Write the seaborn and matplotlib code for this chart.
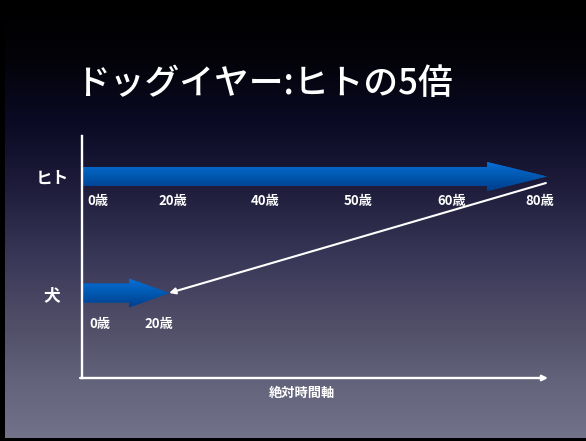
import numpy as np
import pandas as pd
import matplotlib
matplotlib.use("Agg")
import matplotlib.pyplot as plt
import seaborn as sns
from matplotlib.patches import Polygon
from matplotlib.colors import LinearSegmentedColormap

# ---------------- data ----------------
title = "ドッグイヤー:ヒトの5倍"
species = ["ヒト", "犬"]
arrow_end = [80, 15]                 # position reached on the absolute time axis
human_ages = ["0歳", "20歳", "40歳", "50歳", "60歳", "80歳"]
human_age_x = [0.9, 13.1, 29.1, 45.1, 61.2, 76.2]
dog_ages = ["0歳", "20歳"]
dog_age_x = [1.2, 10.7]
axis_label = "絶対時間軸"

# ---------------- style ----------------
head_len = [10.3, 6.9]
shaft_w = 0.163
head_w = 0.249

sns.set_theme(style="white")
plt.rcParams['font.family'] = ['Noto Sans CJK JP', 'DejaVu Sans']

W, H, DPI = 586, 441, 100
fig = plt.figure(figsize=(W / DPI, H / DPI), dpi=DPI, facecolor='black')

# background gradient
bg = fig.add_axes([5 / W, 3 / H, 581 / W, 438 / H], zorder=-10)
stops_y = [0, 60, 120, 180, 260, 330, 380, 438]
stops_c = ['#000000', '#030309', '#0a0a24', '#1c1a38', '#3a3858',
           '#525069', '#62627a', '#72728a']
bg_cmap = LinearSegmentedColormap.from_list(
    'bg', list(zip(np.array(stops_y) / 438.0, stops_c)))
bg.imshow(np.linspace(0, 1, 438)[:, None], aspect='auto', cmap=bg_cmap)
bg.set_axis_off()

# main axes
ax = fig.add_axes([82 / W, 1 - 378 / H, (548 - 82) / W, (378 - 136) / H])
ax.set_facecolor('none')

shaft = [e - h for e, h in zip(arrow_end, head_len)]
df = pd.DataFrame({'species': species, 'shaft': shaft})
sns.barplot(data=df, x='shaft', y='species', orient='h', color='#0058b0',
            saturation=1, width=shaft_w, ax=ax, zorder=2,
            linewidth=0, edgecolor='none')

arrow_cmap = LinearSegmentedColormap.from_list('arr', ['#0a70d8', '#0058b0', '#003d8c'])
grad = np.linspace(0, 1, 100)[:, None]
for i, (end, hl) in enumerate(zip(arrow_end, head_len)):
    base = end - hl
    y0 = i
    hs, hh = shaft_w / 2, head_w / 2
    verts = [(0, y0 - hs), (base, y0 - hs), (base, y0 - hh), (end, y0),
             (base, y0 + hh), (base, y0 + hs), (0, y0 + hs)]
    poly = Polygon(verts, closed=True, facecolor='#0058b0', edgecolor='none',
                   linewidth=0, zorder=2.5)
    ax.add_patch(poly)
    im = ax.imshow(grad, extent=[0, end, y0 + hh, y0 - hh], aspect='auto',
                   cmap=arrow_cmap, zorder=3)
    im.set_clip_path(poly)

# connecting line (human 80 -> dog 20)
ax.annotate('', xy=(arrow_end[1], 1), xytext=(arrow_end[0] - 0.2, 0.056),
            arrowprops=dict(arrowstyle='-|>', color='white', lw=1.5,
                            mutation_scale=9, shrinkA=0, shrinkB=0),
            zorder=5)

# age labels
for x, lbl in zip(human_age_x, human_ages):
    ax.text(x, 0.21, lbl, ha='left', va='center', fontsize=9.5,
            fontweight='bold', color='white', zorder=6)
for x, lbl in zip(dog_age_x, dog_ages):
    ax.text(x, 1.266, lbl, ha='left', va='center', fontsize=9.5,
            fontweight='bold', color='white', zorder=6)

ax.set_xlim(0, 80.17)
ax.set_ylim(1.7296, -0.3476)
ax.set_xlabel('')
ax.set_ylabel('')
ax.set_xticks([])
ax.grid(False)

for s in ['top', 'right', 'bottom']:
    ax.spines[s].set_visible(False)
ax.spines['left'].set_color('white')
ax.spines['left'].set_linewidth(1.7)
ax.spines['left'].set_zorder(7)

ax.tick_params(axis='y', length=0, pad=21.6, colors='white', labelsize=12)
for lbl in ax.get_yticklabels():
    lbl.set_fontweight('bold')
    lbl.set_ha('center')

# horizontal time axis with arrow
ax.annotate('', xy=(1.0, 0), xytext=(-0.004, 0), xycoords='axes fraction',
            textcoords='axes fraction',
            arrowprops=dict(arrowstyle='-|>', color='white', lw=1.7,
                            mutation_scale=8, shrinkA=0, shrinkB=0),
            annotation_clip=False, zorder=7)

fig.text(302 / W, 1 - 393 / H, axis_label, ha='center', va='center',
         fontsize=9.5, fontweight='bold', color='white')

fig.text(263.5 / W, 1 - 84 / H, title, ha='center', va='center',
         fontsize=25, fontweight='medium', color='white')

fig.savefig('out.png', dpi=DPI, facecolor=fig.get_facecolor())
